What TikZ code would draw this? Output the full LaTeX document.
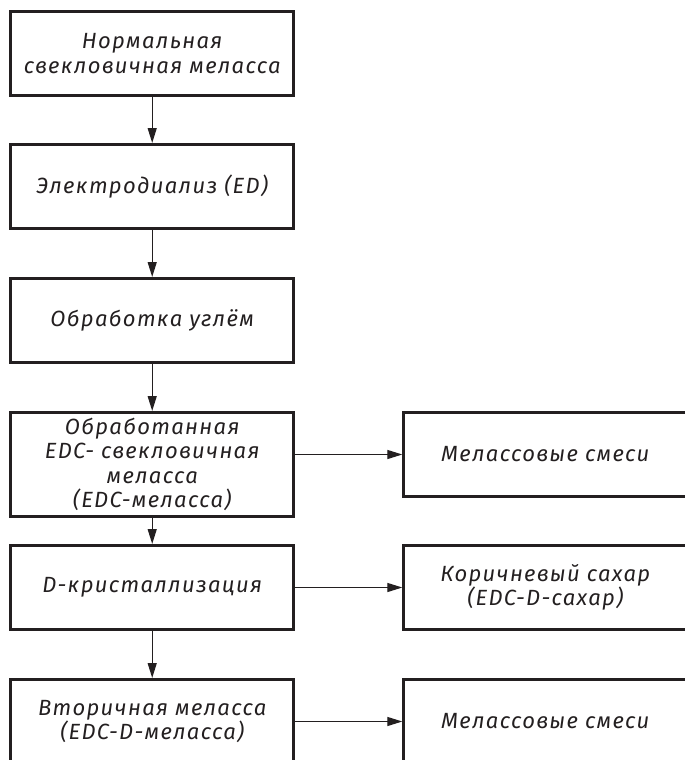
\documentclass[tikz,border=0pt]{standalone}
\usepackage{fontspec}
\setmainfont{Fira Sans}[LetterSpace=6]
\usetikzlibrary{arrows.meta}
\definecolor{ink}{HTML}{231F20}
\begin{document}
\begin{tikzpicture}[x=1pt,y=-1pt,
  box/.style={draw=ink, line width=3pt, minimum width=283pt, minimum height=84pt,
    inner sep=0pt, align=center, text=ink,
    font=\itshape\fontsize{22}{24.5}\selectfont},
  tall/.style={minimum height=104pt},
  arr/.style={draw=ink, line width=1.3pt, -{Triangle[length=15pt,width=9pt]}}]
\useasboundingbox (0,0) rectangle (685,760);
\clip (0,0) rectangle (685,760);
\node[box] (b1) at (152.2,53.5) {Нормальная\\свекловичная меласса};
\node[box] (b2) at (152.2,186.5) {Электродиализ (ED)};
\node[box] (b3) at (152.2,320.5) {Обработка углём};
\node[box,tall] (b4) at (152.2,464.5) {Обработанная\\EDC- свекловичная\\меласса\\(EDC-меласса)};
\node[box] (b5) at (152.2,587.5) {D-кристаллизация};
\node[box] (b6) at (152.2,721.5) {Вторичная меласса\\(EDC-D-меласса)};
\node[box] (r1) at (545.3,454.5) {Мелассовые смеси};
\node[box] (r2) at (545.3,587.5) {Коричневый сахар\\(EDC-D-сахар)};
\node[box] (r3) at (545.3,721.5) {Мелассовые смеси};
\draw[arr] (b1) -- (b2);
\draw[arr] (b2) -- (b3);
\draw[arr] (b3) -- (b4);
\draw[arr] (b4) -- (b5);
\draw[arr] (b5) -- (b6);
\draw[arr] (b4.east |- r1) -- (r1.west);
\draw[arr] (b5) -- (r2);
\draw[arr] (b6) -- (r3);
\end{tikzpicture}
\end{document}
